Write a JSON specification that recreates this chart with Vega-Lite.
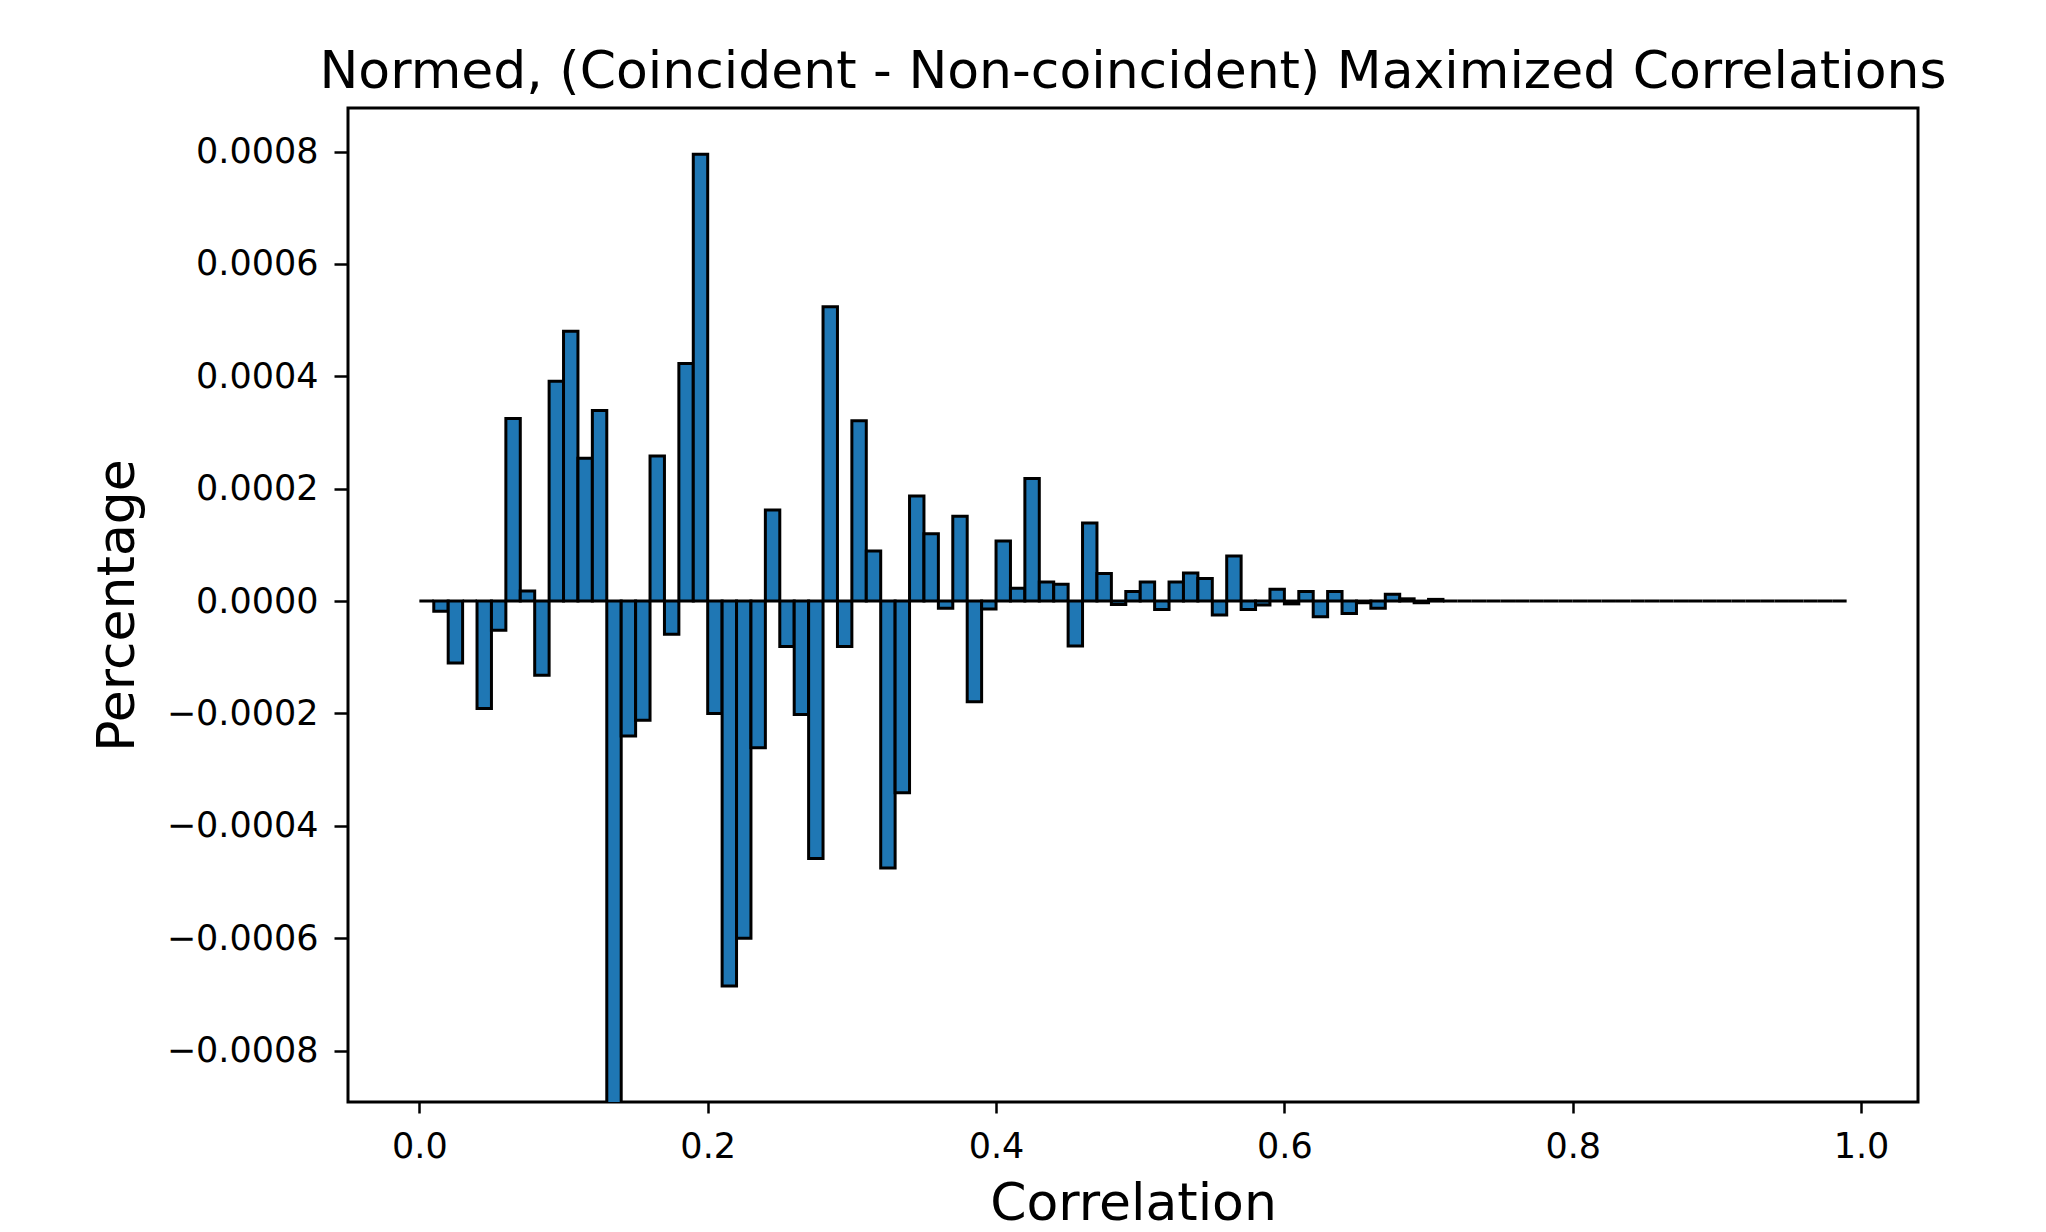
{
  "$schema": "https://vega.github.io/schema/vega-lite/v6.json",
  "width": 1570,
  "height": 994,
  "autosize": "none",
  "padding": {"left": 348, "top": 108, "right": 128, "bottom": 130},
  "background": "white",
  "title": {
    "text": "Normed, (Coincident - Non-coincident) Maximized Correlations",
    "font": "DejaVu Sans",
    "fontSize": 52,
    "fontWeight": "normal",
    "color": "black",
    "anchor": "middle",
    "baseline": "alphabetic",
    "offset": -32
  },
  "config": {
    "view": {"stroke": "black", "strokeWidth": 3},
    "axis": {
      "domain": false,
      "grid": false,
      "ticks": true,
      "tickColor": "black",
      "tickWidth": 2.5,
      "labelFont": "DejaVu Sans",
      "labelFontSize": 35,
      "labelColor": "black",
      "titleFont": "DejaVu Sans",
      "titleFontSize": 52,
      "titleFontWeight": "normal",
      "titleColor": "black"
    }
  },
  "data": {
    "values": [
      {"start": 0.00, "end": 0.01, "value": 0},
      {"start": 0.01, "end": 0.02, "value": -0.000018},
      {"start": 0.02, "end": 0.03, "value": -0.00011},
      {"start": 0.03, "end": 0.04, "value": 0},
      {"start": 0.04, "end": 0.05, "value": -0.000191},
      {"start": 0.05, "end": 0.06, "value": -0.000052},
      {"start": 0.06, "end": 0.07, "value": 0.000325},
      {"start": 0.07, "end": 0.08, "value": 0.000018},
      {"start": 0.08, "end": 0.09, "value": -0.000132},
      {"start": 0.09, "end": 0.10, "value": 0.000391},
      {"start": 0.10, "end": 0.11, "value": 0.00048},
      {"start": 0.11, "end": 0.12, "value": 0.000254},
      {"start": 0.12, "end": 0.13, "value": 0.000339},
      {"start": 0.13, "end": 0.14, "value": -0.00093},
      {"start": 0.14, "end": 0.15, "value": -0.00024},
      {"start": 0.15, "end": 0.16, "value": -0.000212},
      {"start": 0.16, "end": 0.17, "value": 0.000258},
      {"start": 0.17, "end": 0.18, "value": -0.000059},
      {"start": 0.18, "end": 0.19, "value": 0.000423},
      {"start": 0.19, "end": 0.20, "value": 0.000795},
      {"start": 0.20, "end": 0.21, "value": -0.0002},
      {"start": 0.21, "end": 0.22, "value": -0.000685},
      {"start": 0.22, "end": 0.23, "value": -0.0006},
      {"start": 0.23, "end": 0.24, "value": -0.000261},
      {"start": 0.24, "end": 0.25, "value": 0.000162},
      {"start": 0.25, "end": 0.26, "value": -0.000081},
      {"start": 0.26, "end": 0.27, "value": -0.000202},
      {"start": 0.27, "end": 0.28, "value": -0.000458},
      {"start": 0.28, "end": 0.29, "value": 0.000524},
      {"start": 0.29, "end": 0.30, "value": -0.000081},
      {"start": 0.30, "end": 0.31, "value": 0.000321},
      {"start": 0.31, "end": 0.32, "value": 0.000089},
      {"start": 0.32, "end": 0.33, "value": -0.000475},
      {"start": 0.33, "end": 0.34, "value": -0.000341},
      {"start": 0.34, "end": 0.35, "value": 0.000187},
      {"start": 0.35, "end": 0.36, "value": 0.00012},
      {"start": 0.36, "end": 0.37, "value": -0.000013},
      {"start": 0.37, "end": 0.38, "value": 0.000151},
      {"start": 0.38, "end": 0.39, "value": -0.000179},
      {"start": 0.39, "end": 0.40, "value": -0.000014},
      {"start": 0.40, "end": 0.41, "value": 0.000107},
      {"start": 0.41, "end": 0.42, "value": 0.000023},
      {"start": 0.42, "end": 0.43, "value": 0.000218},
      {"start": 0.43, "end": 0.44, "value": 0.000034},
      {"start": 0.44, "end": 0.45, "value": 0.00003},
      {"start": 0.45, "end": 0.46, "value": -0.00008},
      {"start": 0.46, "end": 0.47, "value": 0.000139},
      {"start": 0.47, "end": 0.48, "value": 0.000049},
      {"start": 0.48, "end": 0.49, "value": -0.000006},
      {"start": 0.49, "end": 0.50, "value": 0.000017},
      {"start": 0.50, "end": 0.51, "value": 0.000034},
      {"start": 0.51, "end": 0.52, "value": -0.000015},
      {"start": 0.52, "end": 0.53, "value": 0.000034},
      {"start": 0.53, "end": 0.54, "value": 0.00005},
      {"start": 0.54, "end": 0.55, "value": 0.00004},
      {"start": 0.55, "end": 0.56, "value": -0.000025},
      {"start": 0.56, "end": 0.57, "value": 0.00008},
      {"start": 0.57, "end": 0.58, "value": -0.000015},
      {"start": 0.58, "end": 0.59, "value": -0.000007},
      {"start": 0.59, "end": 0.60, "value": 0.000021},
      {"start": 0.60, "end": 0.61, "value": -0.000005},
      {"start": 0.61, "end": 0.62, "value": 0.000017},
      {"start": 0.62, "end": 0.63, "value": -0.000028},
      {"start": 0.63, "end": 0.64, "value": 0.000017},
      {"start": 0.64, "end": 0.65, "value": -0.000022},
      {"start": 0.65, "end": 0.66, "value": -0.000003},
      {"start": 0.66, "end": 0.67, "value": -0.000013},
      {"start": 0.67, "end": 0.68, "value": 0.000012},
      {"start": 0.68, "end": 0.69, "value": 0.000004},
      {"start": 0.69, "end": 0.70, "value": -0.000003},
      {"start": 0.70, "end": 0.71, "value": 0.000003},
      {"start": 0.71, "end": 0.72, "value": 0},
      {"start": 0.72, "end": 0.73, "value": 0},
      {"start": 0.73, "end": 0.74, "value": 0},
      {"start": 0.74, "end": 0.75, "value": 0},
      {"start": 0.75, "end": 0.76, "value": 0},
      {"start": 0.76, "end": 0.77, "value": 0},
      {"start": 0.77, "end": 0.78, "value": 0},
      {"start": 0.78, "end": 0.79, "value": 0},
      {"start": 0.79, "end": 0.80, "value": 0},
      {"start": 0.80, "end": 0.81, "value": 0},
      {"start": 0.81, "end": 0.82, "value": 0},
      {"start": 0.82, "end": 0.83, "value": 0},
      {"start": 0.83, "end": 0.84, "value": 0},
      {"start": 0.84, "end": 0.85, "value": 0},
      {"start": 0.85, "end": 0.86, "value": 0},
      {"start": 0.86, "end": 0.87, "value": 0},
      {"start": 0.87, "end": 0.88, "value": 0},
      {"start": 0.88, "end": 0.89, "value": 0},
      {"start": 0.89, "end": 0.90, "value": 0},
      {"start": 0.90, "end": 0.91, "value": 0},
      {"start": 0.91, "end": 0.92, "value": 0},
      {"start": 0.92, "end": 0.93, "value": 0},
      {"start": 0.93, "end": 0.94, "value": 0},
      {"start": 0.94, "end": 0.95, "value": 0},
      {"start": 0.95, "end": 0.96, "value": 0},
      {"start": 0.96, "end": 0.97, "value": 0},
      {"start": 0.97, "end": 0.98, "value": 0},
      {"start": 0.98, "end": 0.99, "value": 0}
    ]
  },
  "mark": {"type": "bar", "fill": "#1f77b4", "stroke": "black", "strokeWidth": 3, "clip": true},
  "encoding": {
    "x": {
      "field": "start",
      "type": "quantitative",
      "scale": {"domain": [-0.0495, 1.0395], "nice": false, "zero": false},
      "axis": {"values": [0, 0.2, 0.4, 0.6, 0.8, 1.0], "format": ".1f", "tickSize": 11, "labelPadding": 16, "titlePadding": 14},
      "title": "Correlation"
    },
    "x2": {"field": "end"},
    "y": {
      "field": "value",
      "type": "quantitative",
      "scale": {"domain": [-0.0008915, 0.0008775], "nice": false, "zero": false},
      "axis": {"values": [-0.0008, -0.0006, -0.0004, -0.0002, 0, 0.0002, 0.0004, 0.0006, 0.0008], "format": ".4f", "tickSize": 14, "labelPadding": 16, "titlePadding": 22},
      "title": "Percentage"
    },
    "y2": {"datum": 0}
  }
}
